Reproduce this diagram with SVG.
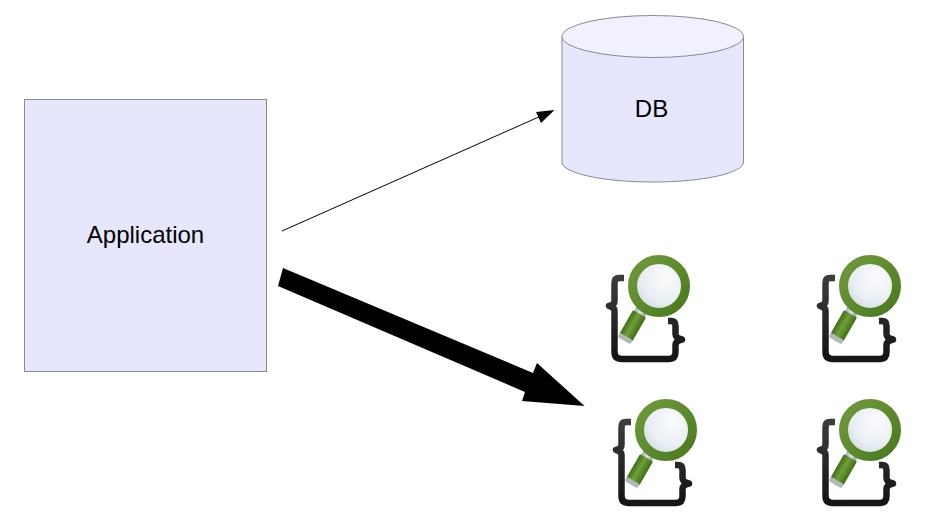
<svg xmlns="http://www.w3.org/2000/svg" width="926" height="525" viewBox="0 0 926 525">
<style>
.shape{fill:#e6e6fc;stroke:#8a8a94;stroke-width:1}
.cap{fill:#f0f0fe;stroke:#8a8a94;stroke-width:1}
.label{font-family:"Liberation Sans",Arial,sans-serif;font-size:24px;fill:#000;text-anchor:middle}
</style>
<defs>
<filter id="soft" x="-10%" y="-10%" width="120%" height="120%"><feGaussianBlur stdDeviation="0.5"/></filter>
<linearGradient id="brace" x1="0" y1="0" x2="0" y2="1"><stop offset="0" stop-color="#3c3c3c"/><stop offset="1" stop-color="#141414"/></linearGradient>
<linearGradient id="green" x1="0" y1="0" x2="1" y2="1"><stop offset="0" stop-color="#6f9a3c"/><stop offset="1" stop-color="#4a7a1e"/></linearGradient>
<linearGradient id="handle" x1="0" y1="0" x2="1" y2="0"><stop offset="0" stop-color="#3f6f18"/><stop offset="0.45" stop-color="#6f9f38"/><stop offset="1" stop-color="#3f6f18"/></linearGradient>
<linearGradient id="collar" x1="0" y1="0" x2="1" y2="0"><stop offset="0" stop-color="#9fadb3"/><stop offset="0.5" stop-color="#dfe5e8"/><stop offset="1" stop-color="#8f9da3"/></linearGradient>
<radialGradient id="glass" cx="0.62" cy="0.35" r="0.75"><stop offset="0" stop-color="#fbfcfd"/><stop offset="0.6" stop-color="#e8eef2"/><stop offset="1" stop-color="#c6d3da"/></radialGradient>
<symbol id="icon" width="110" height="125" viewBox="0 0 110 125" overflow="visible">
<g filter="url(#soft)">
<path d="M29 33H24Q19.500 33 19.500 38V56Q19.500 60 14 61Q19.500 62 19.500 66V107Q19.500 114 27 114H74Q80.500 114 80.500 107V100Q80.500 96 87 94.500Q80.500 93 80.500 89V81Q80.500 76 76 76H73" fill="none" stroke="url(#brace)" stroke-width="6.500" stroke-linejoin="round"/>
<g transform="rotate(30 45 68)">
<rect x="39" y="60" width="12" height="10" fill="url(#collar)"/>
<rect x="37.500" y="69" width="15" height="27" rx="1" fill="url(#handle)"/>
<rect x="37.500" y="95" width="15" height="5" rx="2" fill="#b4b8b8"/>
</g>
<circle cx="64" cy="41" r="26.500" fill="url(#glass)" stroke="url(#green)" stroke-width="9"/>
</g>
</symbol>
</defs>
<g id="connectors">
<path id="db-arrow" d="M282 231L541 116" fill="none" stroke="#000" stroke-width="1"/>
<polygon points="554.500,110 536,112 541,123" fill="#000"/>
<polygon id="index-arrow" points="283,268 533,373 537,363 584.500,406 522,401 525,392 278,286" fill="#000"/>
</g>
<g id="application">
<rect class="shape" x="24.500" y="99.500" width="242" height="272"/>
<text class="label" x="145.500" y="243">Application</text>
</g>
<g id="db">
<path class="shape" d="M562 36.500V162C562 173 602 182 652.750 182S743.500 173 743.500 162V36.500Z"/>
<ellipse class="cap" cx="652.750" cy="36.500" rx="90.750" ry="21"/>
<text class="label" x="651.500" y="117">DB</text>
</g>
<g id="index-1"><use href="#icon" x="595" y="245"/></g>
<g id="index-2"><use href="#icon" x="806" y="245"/></g>
<g id="index-3"><use href="#icon" x="602" y="389"/></g>
<g id="index-4"><use href="#icon" x="806" y="389"/></g>
</svg>
